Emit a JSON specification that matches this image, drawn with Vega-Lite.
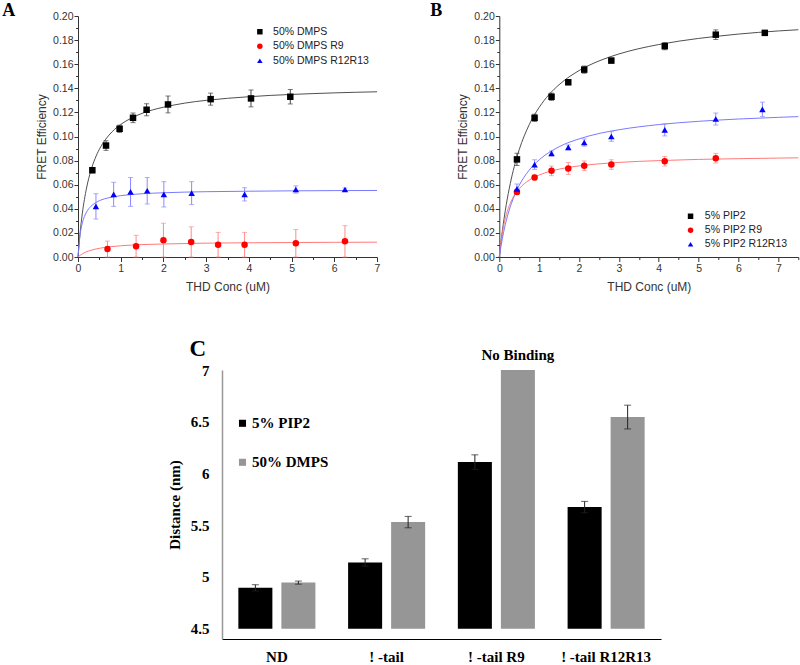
{
  "$schema": "https://vega.github.io/schema/vega-lite/v6.json",
  "padding": {"left": 2, "top": 2, "right": 0, "bottom": 0},
  "config": {"view": {"stroke": null}, "axis": {"grid": false}},
  "resolve": {"scale": {"color": "independent", "shape": "independent"}, "legend": {"color": "independent", "shape": "independent"}},
  "datasets": {
    "aCurve": [
      {"s": "50% DMPS", "x": 0, "y": 0}, {"s": "50% DMPS", "x": 0.05, "y": 0.0204}, {"s": "50% DMPS", "x": 0.1, "y": 0.0358}, {"s": "50% DMPS", "x": 0.2, "y": 0.0572}, {"s": "50% DMPS", "x": 0.3, "y": 0.0715}, {"s": "50% DMPS", "x": 0.4, "y": 0.0817}, {"s": "50% DMPS", "x": 0.5, "y": 0.0894}, {"s": "50% DMPS", "x": 0.65, "y": 0.0978}, {"s": "50% DMPS", "x": 0.8, "y": 0.104}, {"s": "50% DMPS", "x": 1, "y": 0.110}, {"s": "50% DMPS", "x": 1.25, "y": 0.1153}, {"s": "50% DMPS", "x": 1.5, "y": 0.1192}, {"s": "50% DMPS", "x": 1.75, "y": 0.1221}, {"s": "50% DMPS", "x": 2, "y": 0.1243}, {"s": "50% DMPS", "x": 2.5, "y": 0.1277}, {"s": "50% DMPS", "x": 3, "y": 0.130}, {"s": "50% DMPS", "x": 3.5, "y": 0.1317}, {"s": "50% DMPS", "x": 4, "y": 0.133}, {"s": "50% DMPS", "x": 4.5, "y": 0.1341}, {"s": "50% DMPS", "x": 5, "y": 0.1349}, {"s": "50% DMPS", "x": 5.5, "y": 0.1356}, {"s": "50% DMPS", "x": 6, "y": 0.1362}, {"s": "50% DMPS", "x": 6.5, "y": 0.1367}, {"s": "50% DMPS", "x": 7, "y": 0.1371},
      {"s": "50% DMPS R9", "x": 0, "y": 0}, {"s": "50% DMPS R9", "x": 0.1, "y": 0.0026}, {"s": "50% DMPS R9", "x": 0.25, "y": 0.005}, {"s": "50% DMPS R9", "x": 0.5, "y": 0.0072}, {"s": "50% DMPS R9", "x": 0.75, "y": 0.0085}, {"s": "50% DMPS R9", "x": 1, "y": 0.0093}, {"s": "50% DMPS R9", "x": 1.5, "y": 0.0103}, {"s": "50% DMPS R9", "x": 2, "y": 0.0108}, {"s": "50% DMPS R9", "x": 3, "y": 0.0115}, {"s": "50% DMPS R9", "x": 4, "y": 0.0118}, {"s": "50% DMPS R9", "x": 5, "y": 0.012}, {"s": "50% DMPS R9", "x": 6, "y": 0.0122}, {"s": "50% DMPS R9", "x": 7, "y": 0.0123},
      {"s": "50% DMPS R12R13", "x": 0, "y": 0}, {"s": "50% DMPS R12R13", "x": 0.05, "y": 0.0187}, {"s": "50% DMPS R12R13", "x": 0.1, "y": 0.028}, {"s": "50% DMPS R12R13", "x": 0.15, "y": 0.0336}, {"s": "50% DMPS R12R13", "x": 0.2, "y": 0.0373}, {"s": "50% DMPS R12R13", "x": 0.3, "y": 0.042}, {"s": "50% DMPS R12R13", "x": 0.4, "y": 0.0448}, {"s": "50% DMPS R12R13", "x": 0.5, "y": 0.0467}, {"s": "50% DMPS R12R13", "x": 0.75, "y": 0.0494}, {"s": "50% DMPS R12R13", "x": 1, "y": 0.0509}, {"s": "50% DMPS R12R13", "x": 1.5, "y": 0.0525}, {"s": "50% DMPS R12R13", "x": 2, "y": 0.0533}, {"s": "50% DMPS R12R13", "x": 3, "y": 0.0542}, {"s": "50% DMPS R12R13", "x": 4, "y": 0.0546}, {"s": "50% DMPS R12R13", "x": 5, "y": 0.0549}, {"s": "50% DMPS R12R13", "x": 6, "y": 0.0551}, {"s": "50% DMPS R12R13", "x": 7, "y": 0.0552}
    ],
    "aPts": [
      {"s": "50% DMPS", "x": 0.336, "y": 0.072, "e": 0.002}, {"s": "50% DMPS", "x": 0.656, "y": 0.0925, "e": 0.004}, {"s": "50% DMPS", "x": 0.974, "y": 0.1064, "e": 0.003}, {"s": "50% DMPS", "x": 1.288, "y": 0.1155, "e": 0.004}, {"s": "50% DMPS", "x": 1.606, "y": 0.1222, "e": 0.005}, {"s": "50% DMPS", "x": 2.107, "y": 0.1266, "e": 0.007}, {"s": "50% DMPS", "x": 3.105, "y": 0.131, "e": 0.005}, {"s": "50% DMPS", "x": 4.05, "y": 0.1316, "e": 0.007}, {"s": "50% DMPS", "x": 4.97, "y": 0.133, "e": 0.006},
      {"s": "50% DMPS R9", "x": 0.69, "y": 0.0066, "e": 0.0066}, {"s": "50% DMPS R9", "x": 1.36, "y": 0.009, "e": 0.009}, {"s": "50% DMPS R9", "x": 2.0, "y": 0.014, "e": 0.014}, {"s": "50% DMPS R9", "x": 2.65, "y": 0.0125, "e": 0.0125}, {"s": "50% DMPS R9", "x": 3.28, "y": 0.0102, "e": 0.0102}, {"s": "50% DMPS R9", "x": 3.9, "y": 0.0102, "e": 0.0102}, {"s": "50% DMPS R9", "x": 5.1, "y": 0.0114, "e": 0.0114}, {"s": "50% DMPS R9", "x": 6.25, "y": 0.013, "e": 0.013},
      {"s": "50% DMPS R12R13", "x": 0.42, "y": 0.042, "e": 0.0105}, {"s": "50% DMPS R12R13", "x": 0.835, "y": 0.052, "e": 0.010}, {"s": "50% DMPS R12R13", "x": 1.23, "y": 0.054, "e": 0.012}, {"s": "50% DMPS R12R13", "x": 1.62, "y": 0.055, "e": 0.011}, {"s": "50% DMPS R12R13", "x": 2.01, "y": 0.052, "e": 0.0105}, {"s": "50% DMPS R12R13", "x": 2.66, "y": 0.053, "e": 0.0095}, {"s": "50% DMPS R12R13", "x": 3.9, "y": 0.052, "e": 0.0055}, {"s": "50% DMPS R12R13", "x": 5.1, "y": 0.056, "e": 0.003}, {"s": "50% DMPS R12R13", "x": 6.25, "y": 0.056, "e": 0.0012}
    ],
    "bCurve": [
      {"s": "5% PIP2", "x": 0, "y": 0}, {"s": "5% PIP2", "x": 0.05, "y": 0.0146}, {"s": "5% PIP2", "x": 0.1, "y": 0.0273}, {"s": "5% PIP2", "x": 0.2, "y": 0.0482}, {"s": "5% PIP2", "x": 0.3, "y": 0.0647}, {"s": "5% PIP2", "x": 0.4, "y": 0.0781}, {"s": "5% PIP2", "x": 0.5, "y": 0.0891}, {"s": "5% PIP2", "x": 0.75, "y": 0.1098}, {"s": "5% PIP2", "x": 1, "y": 0.1242}, {"s": "5% PIP2", "x": 1.25, "y": 0.1349}, {"s": "5% PIP2", "x": 1.5, "y": 0.143}, {"s": "5% PIP2", "x": 2, "y": 0.1547}, {"s": "5% PIP2", "x": 2.5, "y": 0.1627}, {"s": "5% PIP2", "x": 3, "y": 0.1685}, {"s": "5% PIP2", "x": 3.5, "y": 0.1729}, {"s": "5% PIP2", "x": 4, "y": 0.1763}, {"s": "5% PIP2", "x": 4.5, "y": 0.1791}, {"s": "5% PIP2", "x": 5, "y": 0.1814}, {"s": "5% PIP2", "x": 5.5, "y": 0.1833}, {"s": "5% PIP2", "x": 6, "y": 0.185}, {"s": "5% PIP2", "x": 6.5, "y": 0.1864}, {"s": "5% PIP2", "x": 7, "y": 0.1876}, {"s": "5% PIP2", "x": 7.5, "y": 0.1886},
      {"s": "5% PIP2 R9", "x": 0, "y": 0}, {"s": "5% PIP2 R9", "x": 0.05, "y": 0.0142}, {"s": "5% PIP2 R9", "x": 0.1, "y": 0.0243}, {"s": "5% PIP2 R9", "x": 0.2, "y": 0.0378}, {"s": "5% PIP2 R9", "x": 0.3, "y": 0.0464}, {"s": "5% PIP2 R9", "x": 0.4, "y": 0.0523}, {"s": "5% PIP2 R9", "x": 0.5, "y": 0.0567}, {"s": "5% PIP2 R9", "x": 0.75, "y": 0.0638}, {"s": "5% PIP2 R9", "x": 1, "y": 0.068}, {"s": "5% PIP2 R9", "x": 1.5, "y": 0.0729}, {"s": "5% PIP2 R9", "x": 2, "y": 0.0756}, {"s": "5% PIP2 R9", "x": 2.5, "y": 0.0773}, {"s": "5% PIP2 R9", "x": 3, "y": 0.0785}, {"s": "5% PIP2 R9", "x": 4, "y": 0.08}, {"s": "5% PIP2 R9", "x": 5, "y": 0.081}, {"s": "5% PIP2 R9", "x": 6, "y": 0.0816}, {"s": "5% PIP2 R9", "x": 7, "y": 0.0821}, {"s": "5% PIP2 R9", "x": 7.5, "y": 0.0823},
      {"s": "5% PIP2 R12R13", "x": 0, "y": 0}, {"s": "5% PIP2 R12R13", "x": 0.05, "y": 0.0104}, {"s": "5% PIP2 R12R13", "x": 0.1, "y": 0.0192}, {"s": "5% PIP2 R12R13", "x": 0.2, "y": 0.0333}, {"s": "5% PIP2 R12R13", "x": 0.3, "y": 0.0441}, {"s": "5% PIP2 R12R13", "x": 0.4, "y": 0.0526}, {"s": "5% PIP2 R12R13", "x": 0.5, "y": 0.0595}, {"s": "5% PIP2 R12R13", "x": 0.75, "y": 0.0721}, {"s": "5% PIP2 R12R13", "x": 1, "y": 0.0806}, {"s": "5% PIP2 R12R13", "x": 1.5, "y": 0.0915}, {"s": "5% PIP2 R12R13", "x": 2, "y": 0.098}, {"s": "5% PIP2 R12R13", "x": 2.5, "y": 0.1025}, {"s": "5% PIP2 R12R13", "x": 3, "y": 0.1056}, {"s": "5% PIP2 R12R13", "x": 4, "y": 0.1099}, {"s": "5% PIP2 R12R13", "x": 5, "y": 0.1126}, {"s": "5% PIP2 R12R13", "x": 6, "y": 0.1145}, {"s": "5% PIP2 R12R13", "x": 7, "y": 0.1159}, {"s": "5% PIP2 R12R13", "x": 7.5, "y": 0.1165}
    ],
    "bPts": [
      {"s": "5% PIP2", "x": 0.443, "y": 0.081, "e": 0.005}, {"s": "5% PIP2", "x": 0.885, "y": 0.1155, "e": 0.003}, {"s": "5% PIP2", "x": 1.31, "y": 0.133, "e": 0.003}, {"s": "5% PIP2", "x": 1.73, "y": 0.145, "e": 0.002}, {"s": "5% PIP2", "x": 2.13, "y": 0.1555, "e": 0.003}, {"s": "5% PIP2", "x": 2.81, "y": 0.163, "e": 0.002}, {"s": "5% PIP2", "x": 4.15, "y": 0.175, "e": 0.003}, {"s": "5% PIP2", "x": 5.43, "y": 0.1845, "e": 0.004}, {"s": "5% PIP2", "x": 6.66, "y": 0.186, "e": 0.002},
      {"s": "5% PIP2 R9", "x": 0.443, "y": 0.054, "e": 0.002}, {"s": "5% PIP2 R9", "x": 0.885, "y": 0.066, "e": 0.002}, {"s": "5% PIP2 R9", "x": 1.31, "y": 0.0715, "e": 0.004}, {"s": "5% PIP2 R9", "x": 1.73, "y": 0.0735, "e": 0.005}, {"s": "5% PIP2 R9", "x": 2.13, "y": 0.0757, "e": 0.004}, {"s": "5% PIP2 R9", "x": 2.81, "y": 0.0767, "e": 0.004}, {"s": "5% PIP2 R9", "x": 4.15, "y": 0.0795, "e": 0.004}, {"s": "5% PIP2 R9", "x": 5.43, "y": 0.082, "e": 0.004},
      {"s": "5% PIP2 R12R13", "x": 0.443, "y": 0.0565, "e": 0.004}, {"s": "5% PIP2 R12R13", "x": 0.885, "y": 0.0767, "e": 0.004}, {"s": "5% PIP2 R12R13", "x": 1.31, "y": 0.086, "e": 0.002}, {"s": "5% PIP2 R12R13", "x": 1.73, "y": 0.091, "e": 0.002}, {"s": "5% PIP2 R12R13", "x": 2.13, "y": 0.095, "e": 0.003}, {"s": "5% PIP2 R12R13", "x": 2.81, "y": 0.1, "e": 0.004}, {"s": "5% PIP2 R12R13", "x": 4.15, "y": 0.1055, "e": 0.005}, {"s": "5% PIP2 R12R13", "x": 5.43, "y": 0.1145, "e": 0.005}, {"s": "5% PIP2 R12R13", "x": 6.6, "y": 0.1225, "e": 0.006}
    ],
    "cBars": [
      {"cat": "ND", "g": "5% PIP2", "v": 4.895, "lo": 4.865, "hi": 4.925},
      {"cat": "ND", "g": "50% DMPS", "v": 4.945, "lo": 4.93, "hi": 4.96},
      {"cat": "! -tail", "g": "5% PIP2", "v": 5.14, "lo": 5.105, "hi": 5.175},
      {"cat": "! -tail", "g": "50% DMPS", "v": 5.53, "lo": 5.475, "hi": 5.585},
      {"cat": "! -tail  R9", "g": "5% PIP2", "v": 6.11, "lo": 6.04, "hi": 6.18},
      {"cat": "! -tail  R9", "g": "50% DMPS", "v": 7.0, "lo": null, "hi": null},
      {"cat": "! -tail R12R13", "g": "5% PIP2", "v": 5.675, "lo": 5.62, "hi": 5.73},
      {"cat": "! -tail R12R13", "g": "50% DMPS", "v": 6.545, "lo": 6.43, "hi": 6.66}
    ],
    "cNote": [
      {"cat": "! -tail  R9", "g": "50% DMPS", "v": 7.0, "label": "No Binding"}
    ]
  },
  "spacing": 45,
  "bounds": "full",
  "vconcat": [
    {
      "spacing": 122.3,
      "bounds": "flush",
      "resolve": {"scale": {"color": "independent", "shape": "independent"}, "legend": {"color": "independent", "shape": "independent"}},
      "hconcat": [
        {
          "width": 299, "height": 241,
          "title": {"text": "A", "anchor": "start", "frame": "group", "font": "Liberation Serif", "fontSize": 18, "fontWeight": "bold", "color": "#000", "offset": 0, "baseline": "alphabetic", "dx": -75.7, "dy": 23.3},
          "encoding": {
            "x": {"field": "x", "type": "quantitative", "title": "THD Conc (uM)", "scale": {"domain": [0, 7]},
              "axis": {"values": [0, 0.5, 1, 1.5, 2, 2.5, 3, 3.5, 4, 4.5, 5, 5.5, 6, 6.5, 7], "labelExpr": "datum.value % 1 == 0 ? format(datum.value, 'd') : ''", "tickSize": {"condition": {"test": "datum.value % 1 != 0", "value": 2.5}, "value": 4.5}, "labelFont": "Liberation Sans", "labelFontSize": 10.5, "labelColor": "#333", "titleFont": "Liberation Sans", "titleFontSize": 12, "titleFontWeight": "normal", "titleColor": "#333", "tickColor": "#333", "domainColor": "#333", "labelPadding": 2, "titlePadding": 7, "labelOverlap": false, "labelFlush": false}},
            "y": {"field": "y", "type": "quantitative", "title": "FRET Efficiency", "scale": {"domain": [0, 0.2], "clamp": true},
              "axis": {"values": [0, 0.01, 0.02, 0.03, 0.04, 0.05, 0.06, 0.07, 0.08, 0.09, 0.1, 0.11, 0.12, 0.13, 0.14, 0.15, 0.16, 0.17, 0.18, 0.19, 0.2], "labelExpr": "round(datum.value * 100) % 2 == 0 ? format(datum.value, '.2f') : ''", "tickSize": {"condition": {"test": "round(datum.value * 100) % 2 == 1", "value": 2.5}, "value": 4}, "labelFont": "Liberation Sans", "labelFontSize": 10.5, "labelColor": "#333", "titleFont": "Liberation Sans", "titleFontSize": 12, "titleFontWeight": "normal", "titleColor": "#333", "tickColor": "#333", "domainColor": "#333", "labelPadding": 1, "titlePadding": 4, "labelOverlap": false, "labelFlush": false}}
          },
          "layer": [
            {"data": {"name": "aCurve"}, "transform": [{"filter": "datum.s == '50% DMPS'"}], "mark": {"type": "line", "strokeWidth": 1, "interpolate": "monotone", "color": "#505050"}, "encoding": {}},
            {"data": {"name": "aCurve"}, "transform": [{"filter": "datum.s == '50% DMPS R9'"}], "mark": {"type": "line", "strokeWidth": 1, "interpolate": "monotone", "color": "#ff7a7a"}, "encoding": {}},
            {"data": {"name": "aCurve"}, "transform": [{"filter": "datum.s == '50% DMPS R12R13'"}], "mark": {"type": "line", "strokeWidth": 1, "interpolate": "monotone", "color": "#7a7aff"}, "encoding": {}},
            {
              "data": {"name": "aPts"}, "transform": [{"filter": "datum.s == '50% DMPS'"}],
              "mark": {"type": "errorbar", "ticks": true, "size": 5, "thickness": 1, "color": "#444444"},
              "encoding": {"yError": {"field": "e"}}
            },
            {
              "data": {"name": "aPts"}, "transform": [{"filter": "datum.s == '50% DMPS R9'"}],
              "mark": {"type": "errorbar", "ticks": true, "size": 5, "thickness": 1, "color": "#ff8a8a"},
              "encoding": {"yError": {"field": "e"}}
            },
            {
              "data": {"name": "aPts"}, "transform": [{"filter": "datum.s == '50% DMPS R12R13'"}],
              "mark": {"type": "errorbar", "ticks": true, "size": 5, "thickness": 1, "color": "#8a8aff"},
              "encoding": {"yError": {"field": "e"}}
            },
            {
              "data": {"name": "aPts"},
              "mark": {"type": "point", "filled": true, "opacity": 1, "size": 42},
              "encoding": {
                "color": {"field": "s", "type": "nominal", "scale": {"domain": ["50% DMPS", "50% DMPS R9", "50% DMPS R12R13"], "range": ["#000000", "#ff0000", "#0000ff"]}, "legend": {"orient": "none", "legendX": 176.6, "legendY": 10.5, "title": null, "padding": 0, "labelFont": "Liberation Sans", "labelFontSize": 10.5, "labelColor": "#222", "symbolSize": 30, "labelOffset": 8, "rowPadding": 3.5}},
                "shape": {"field": "s", "type": "nominal", "scale": {"domain": ["50% DMPS", "50% DMPS R9", "50% DMPS R12R13"], "range": ["square", "circle", "triangle-up"]}, "legend": {"orient": "none", "legendX": 176.6, "legendY": 10.5, "title": null, "padding": 0, "labelFont": "Liberation Sans", "labelFontSize": 10.5, "labelColor": "#222", "symbolSize": 30, "labelOffset": 8, "rowPadding": 3.5}}
              }
            }
          ]
        },
        {
          "width": 299, "height": 241,
          "title": {"text": "B", "anchor": "start", "frame": "group", "font": "Liberation Serif", "fontSize": 18, "fontWeight": "bold", "color": "#000", "offset": 0, "baseline": "alphabetic", "dx": -69, "dy": 23.3},
          "encoding": {
            "x": {"field": "x", "type": "quantitative", "title": "THD Conc (uM)", "scale": {"domain": [0, 7.5]},
              "axis": {"values": [0, 0.5, 1, 1.5, 2, 2.5, 3, 3.5, 4, 4.5, 5, 5.5, 6, 6.5, 7, 7.5], "labelExpr": "datum.value % 1 == 0 ? format(datum.value, 'd') : ''", "tickSize": {"condition": {"test": "datum.value % 1 != 0", "value": 2.5}, "value": 4.5}, "labelFont": "Liberation Sans", "labelFontSize": 10.5, "labelColor": "#333", "titleFont": "Liberation Sans", "titleFontSize": 12, "titleFontWeight": "normal", "titleColor": "#333", "tickColor": "#333", "domainColor": "#333", "labelPadding": 2, "titlePadding": 7, "labelOverlap": false, "labelFlush": false}},
            "y": {"field": "y", "type": "quantitative", "title": "FRET Efficiency", "scale": {"domain": [0, 0.2], "clamp": true},
              "axis": {"values": [0, 0.01, 0.02, 0.03, 0.04, 0.05, 0.06, 0.07, 0.08, 0.09, 0.1, 0.11, 0.12, 0.13, 0.14, 0.15, 0.16, 0.17, 0.18, 0.19, 0.2], "labelExpr": "round(datum.value * 100) % 2 == 0 ? format(datum.value, '.2f') : ''", "tickSize": {"condition": {"test": "round(datum.value * 100) % 2 == 1", "value": 2.5}, "value": 4}, "labelFont": "Liberation Sans", "labelFontSize": 10.5, "labelColor": "#333", "titleFont": "Liberation Sans", "titleFontSize": 12, "titleFontWeight": "normal", "titleColor": "#333", "tickColor": "#333", "domainColor": "#333", "labelPadding": 1, "titlePadding": 4, "labelOverlap": false, "labelFlush": false}}
          },
          "layer": [
            {"data": {"name": "bCurve"}, "transform": [{"filter": "datum.s == '5% PIP2'"}], "mark": {"type": "line", "strokeWidth": 1, "interpolate": "monotone", "color": "#505050"}, "encoding": {}},
            {"data": {"name": "bCurve"}, "transform": [{"filter": "datum.s == '5% PIP2 R9'"}], "mark": {"type": "line", "strokeWidth": 1, "interpolate": "monotone", "color": "#ff7a7a"}, "encoding": {}},
            {"data": {"name": "bCurve"}, "transform": [{"filter": "datum.s == '5% PIP2 R12R13'"}], "mark": {"type": "line", "strokeWidth": 1, "interpolate": "monotone", "color": "#7a7aff"}, "encoding": {}},
            {
              "data": {"name": "bPts"}, "transform": [{"filter": "datum.s == '5% PIP2'"}],
              "mark": {"type": "errorbar", "ticks": true, "size": 5, "thickness": 1, "color": "#444444"},
              "encoding": {"yError": {"field": "e"}}
            },
            {
              "data": {"name": "bPts"}, "transform": [{"filter": "datum.s == '5% PIP2 R9'"}],
              "mark": {"type": "errorbar", "ticks": true, "size": 5, "thickness": 1, "color": "#ff8a8a"},
              "encoding": {"yError": {"field": "e"}}
            },
            {
              "data": {"name": "bPts"}, "transform": [{"filter": "datum.s == '5% PIP2 R12R13'"}],
              "mark": {"type": "errorbar", "ticks": true, "size": 5, "thickness": 1, "color": "#8a8aff"},
              "encoding": {"yError": {"field": "e"}}
            },
            {
              "data": {"name": "bPts"},
              "mark": {"type": "point", "filled": true, "opacity": 1, "size": 42},
              "encoding": {
                "color": {"field": "s", "type": "nominal", "scale": {"domain": ["5% PIP2", "5% PIP2 R9", "5% PIP2 R12R13"], "range": ["#000000", "#ff0000", "#0000ff"]}, "legend": {"orient": "none", "legendX": 186, "legendY": 195, "title": null, "padding": 0, "labelFont": "Liberation Sans", "labelFontSize": 10.5, "labelColor": "#222", "symbolSize": 30, "labelOffset": 9, "rowPadding": 3}},
                "shape": {"field": "s", "type": "nominal", "scale": {"domain": ["5% PIP2", "5% PIP2 R9", "5% PIP2 R12R13"], "range": ["square", "circle", "triangle-up"]}, "legend": {"orient": "none", "legendX": 186, "legendY": 195, "title": null, "padding": 0, "labelFont": "Liberation Sans", "labelFontSize": 10.5, "labelColor": "#222", "symbolSize": 30, "labelOffset": 9, "rowPadding": 3}}
              }
            }
          ]
        }
      ]
    },
    {
      "spacing": 10,
      "bounds": "flush",
      "resolve": {"scale": {"color": "independent"}, "legend": {"color": "independent"}},
      "hconcat": [
        {
          "width": 134, "height": 269,
          "data": {"values": [{"a": 1}]},
          "mark": {"type": "point", "opacity": 0},
          "encoding": {}
        },
        {
          "width": 439, "height": 269,
          "title": {"text": "C", "anchor": "start", "frame": "group", "font": "Liberation Serif", "fontSize": 23, "fontWeight": "bold", "color": "#000", "offset": 0, "baseline": "alphabetic", "dx": -32.4, "dy": 30.6},
          "layer": [
            {
              "data": {"name": "cBars"},
              "mark": {"type": "bar", "clip": true},
              "encoding": {
                "x": {"field": "cat", "type": "nominal", "sort": null, "title": null, "scale": {"paddingInner": 0, "paddingOuter": 0},
                  "axis": {"labelAngle": 0, "ticks": false, "domainColor": "#000", "domainWidth": 1, "labelFont": "Liberation Serif", "labelFontSize": 15, "labelFontWeight": "bold", "labelColor": "#000", "labelPadding": 10}},
                "xOffset": {"field": "g", "type": "nominal", "sort": null, "scale": {"paddingInner": 0.209, "paddingOuter": 0.38}},
                "y": {"field": "v", "type": "quantitative", "title": "Distance (nm)", "scale": {"domain": [4.5, 7], "zero": false},
                  "axis": {"values": [4.5, 5, 5.5, 6, 6.5, 7], "labelExpr": "'' + datum.value", "ticks": false, "domainColor": "#999", "domainWidth": 1.5, "labelFont": "Liberation Serif", "labelFontSize": 15, "labelFontWeight": "bold", "labelColor": "#000", "labelPadding": 13, "titleFont": "Liberation Serif", "titleFontSize": 15, "titleFontWeight": "bold", "titleColor": "#000", "titlePadding": 8}},
                "y2": {"datum": 4.5},
                "color": {"field": "g", "type": "nominal", "scale": {"domain": ["5% PIP2", "50% DMPS"], "range": ["#000000", "#969696"]},
                  "legend": {"orient": "none", "legendX": 13, "legendY": 45.8, "title": null, "padding": 0, "labelFont": "Liberation Serif", "labelFontSize": 15, "labelFontWeight": "bold", "labelColor": "#000", "symbolType": "square", "symbolSize": 50, "symbolStrokeWidth": 0, "labelOffset": 2, "rowPadding": 23}}
              }
            },
            {
              "data": {"name": "cBars"},
              "transform": [{"filter": "datum.lo != null"}],
              "mark": {"type": "errorbar", "ticks": true, "size": 7, "thickness": 1, "color": "#222"},
              "encoding": {
                "x": {"field": "cat", "type": "nominal", "sort": null, "title": null},
                "xOffset": {"field": "g", "type": "nominal", "sort": null},
                "y": {"field": "lo", "type": "quantitative", "title": "Distance (nm)"},
                "y2": {"field": "hi"}
              }
            },
            {
              "data": {"name": "cNote"},
              "mark": {"type": "text", "font": "Liberation Serif", "fontSize": 15, "fontWeight": "bold", "baseline": "alphabetic", "dy": -10, "color": "#000"},
              "encoding": {
                "x": {"field": "cat", "type": "nominal", "sort": null, "title": null},
                "xOffset": {"field": "g", "type": "nominal", "sort": null},
                "y": {"field": "v", "type": "quantitative", "title": "Distance (nm)"},
                "text": {"field": "label"}
              }
            }
          ]
        }
      ]
    }
  ]
}
